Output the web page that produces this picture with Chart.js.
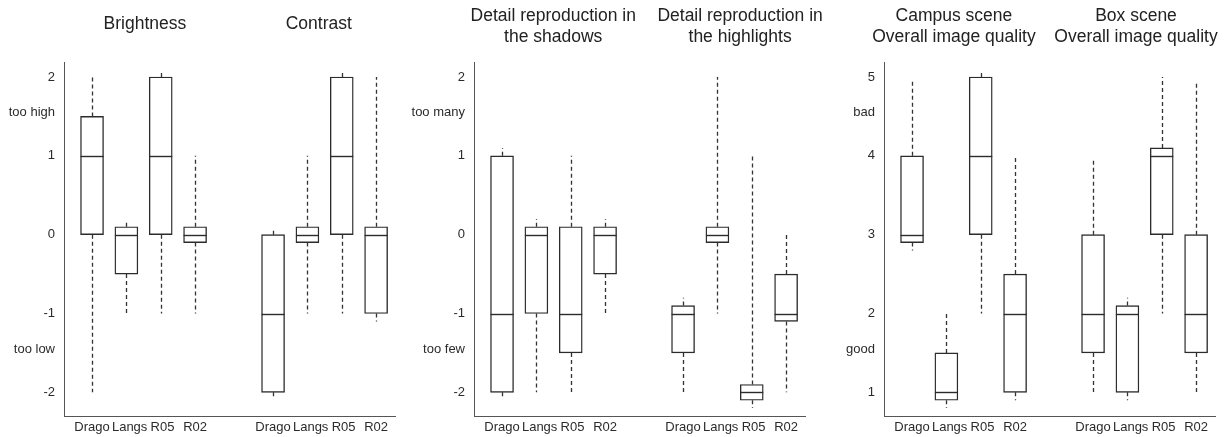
<!DOCTYPE html>
<html>
<head>
<meta charset="utf-8">
<title>Box plots</title>
<script src="https://cdn.jsdelivr.net/npm/chart.js@4.4.0/dist/chart.umd.min.js"></script>
<style>
    html, body { margin: 0; padding: 0; background: #fff; overflow: hidden; }
    .panel { position: absolute; top: 0; width: 425px; height: 437px; }
</style>
</head>
<body>
<div class="panel" style="left:0px"><canvas id="panel1" width="425" height="437"></canvas></div>
<div class="panel" style="left:410px"><canvas id="panel2" width="425" height="437"></canvas></div>
<div class="panel" style="left:820px"><canvas id="panel3" width="425" height="437"></canvas></div>
<script>
const methods = ['Drago', 'Langs', 'R05', 'R02'];

// each row: [lower whisker, lower hinge, median, upper hinge, upper whisker]
const brightness = [[-2, 0, 1, 1.5, 2], [-1, -0.5, 0, 0.1, 0.15], [-1, 0, 1, 2, 2.05], [-1, -0.1, 0, 0.1, 1]];
const contrast = [[-2.06, -2, -1, 0, 0.06], [-1, -0.1, 0, 0.1, 1], [-1, 0, 1, 2, 2.05], [-1.1, -1, 0, 0.1, 2]];
const shadows = [[-2.06, -2, -1, 1, 1.1], [-2, -1, 0, 0.1, 0.2], [-2, -1.5, -1, 0.1, 1], [-1, -0.5, 0, 0.1, 0.2]];
const highlights = [[-2, -1.5, -1, -0.9, -0.8], [-1, -0.1, 0, 0.1, 2], [-2.2, -2.1, -2, -1.9, 1], [-2, -1.1, -1, -0.5, 0]];
const campusScene = [[2.8, 2.9, 3, 4, 4.95], [0.8, 0.9, 1, 1.5, 2], [2, 3, 4, 5, 5.05], [0.9, 1, 2, 2.5, 4]];
const boxScene = [[1, 1.5, 2, 3, 3.95], [0.9, 1, 2, 2.1, 2.2], [2, 3, 4, 4.1, 5], [1, 1.5, 2, 3, 4.95]];

const deviationTicks = [-2, -1, 0, 1, 2];
const qualityTicks = [1, 2, 3, 4, 5];
const deviationNoteValues = [1.55, -1.45];
const qualityNoteValues = [4.55, 1.55];
const brightnessNotes = ['too high', 'too low'];
const detailNotes = ['too many', 'too few'];
const qualityNotes = ['bad', 'good'];

const titles1 = [['Brightness'], ['Contrast']];
const titles2 = [['Detail reproduction in', 'the shadows'], ['Detail reproduction in', 'the highlights']];
const titles3 = [['Campus scene', 'Overall image quality'], ['Box scene', 'Overall image quality']];

const groupStride = 5.27;
const fontFamily = '"Liberation Sans", Arial, sans-serif';
const ink = '#2b2b2b';
// the method names sit a little right of their boxes in the original
const labelPad = ['', '\u2002', ' ', ''];

const boxPlugin = {
    id: 'boxParts',
    beforeDatasetsDraw(chart) {
        const ctx = chart.ctx;
        const y = chart.scales.y;
        const meta = chart.getDatasetMeta(0);
        const rows = chart.config.options.boxRows;
        ctx.save();
        ctx.strokeStyle = '#333';
        ctx.lineWidth = 1.3;
        ctx.setLineDash([4, 3]);
        meta.data.forEach((bar, k) => {
            const r = rows[k];
            const x = Math.round(bar.x) + 0.5;
            ctx.beginPath();
            ctx.moveTo(x, y.getPixelForValue(r[1]));
            ctx.lineTo(x, y.getPixelForValue(r[0]));
            ctx.moveTo(x, y.getPixelForValue(r[3]));
            ctx.lineTo(x, y.getPixelForValue(r[4]));
            ctx.stroke();
        });
        ctx.restore();
    },
    afterDatasetsDraw(chart) {
        const ctx = chart.ctx;
        const y = chart.scales.y;
        const meta = chart.getDatasetMeta(0);
        const rows = chart.config.options.boxRows;
        ctx.save();
        ctx.strokeStyle = ink;
        ctx.lineWidth = 1.4;
        meta.data.forEach((bar, k) => {
            const my = Math.round(y.getPixelForValue(rows[k][2])) + 0.5;
            ctx.beginPath();
            ctx.moveTo(bar.x - bar.width / 2, my);
            ctx.lineTo(bar.x + bar.width / 2, my);
            ctx.stroke();
        });
        ctx.restore();
    },
    afterDraw(chart) {
        const ctx = chart.ctx;
        const opts = chart.config.options;
        ctx.save();
        ctx.fillStyle = '#222';
        ctx.font = '17.5px ' + fontFamily;
        ctx.textAlign = 'center';
        ctx.textBaseline = 'middle';
        opts.panelTitles.forEach((lines, g) => {
            const x = chart.scales.x.getPixelForValue(opts.titleX[g]);
            if (lines.length === 1) {
                ctx.fillText(lines[0], x, 24);
            } else {
                ctx.fillText(lines[0], x, 16);
                ctx.fillText(lines[1], x, 37);
            }
        });
        ctx.restore();
    }
};

function makePanel(id, left, right, ticks, noteValues, notes, yMin, yMax, titles, titleX) {
    const xs = [];
    const rows = [];
    [left, right].forEach((set, g) => {
        set.forEach((r, i) => {
            xs.push(g * groupStride + i + 1);
            rows.push(r);
        });
    });

    new Chart(document.getElementById(id), {
        type: 'bar',
        data: {
            datasets: [{
                data: rows.map((r, k) => ({ x: xs[k], y: [r[1], r[3]] })),
                backgroundColor: '#fff',
                borderColor: ink,
                borderWidth: 1.4,
                borderSkipped: false,
                barThickness: 23
            }]
        },
        options: {
            responsive: false,
            animation: false,
            devicePixelRatio: 1,
            boxRows: rows,
            panelTitles: titles,
            titleX: titleX,
            layout: { padding: { top: 62, right: 30, bottom: 0, left: 0 } },
            plugins: { legend: { display: false }, tooltip: { enabled: false } },
            scales: {
                x: {
                    type: 'linear',
                    offset: false,
                    min: 0.184,
                    max: 9.82,
                    grid: { display: false, drawTicks: false, offset: false },
                    border: { display: true, color: '#555', width: 1 },
                    afterBuildTicks: scale => { scale.ticks = xs.map(v => ({ value: v })); },
                    afterFit: scale => { scale.height = 21; },
                    ticks: {
                        padding: 4,
                        color: ink,
                        font: { family: fontFamily, size: 13 },
                        maxRotation: 0,
                        autoSkip: false,
                        callback: (v, i) => labelPad[i % methods.length] + methods[i % methods.length]
                    }
                },
                y: {
                    min: yMin,
                    max: yMax,
                    grid: { display: false, drawTicks: false },
                    border: { display: true, color: '#555', width: 1 },
                    afterBuildTicks: scale => {
                        scale.ticks = ticks.concat(noteValues).map(v => ({ value: v }));
                    },
                    afterFit: scale => { scale.width = 64; },
                    ticks: {
                        padding: 9,
                        color: ink,
                        font: { family: fontFamily, size: 13 },
                        autoSkip: false,
                        callback: v => {
                            const n = noteValues.indexOf(v);
                            return n >= 0 ? notes[n] : String(v);
                        }
                    }
                }
            }
        },
        plugins: [boxPlugin]
    });
}

makePanel('panel1', brightness, contrast, deviationTicks, deviationNoteValues, brightnessNotes, -2.3, 2.19, titles1, [2.54, 7.6]);
makePanel('panel2', shadows, highlights, deviationTicks, deviationNoteValues, detailNotes, -2.3, 2.19, titles2, [2.49, 7.93]);
makePanel('panel3', campusScene, boxScene, qualityTicks, qualityNoteValues, qualityNotes, 0.7, 5.19, titles3, [2.22, 7.52]);
</script>
</body>
</html>
